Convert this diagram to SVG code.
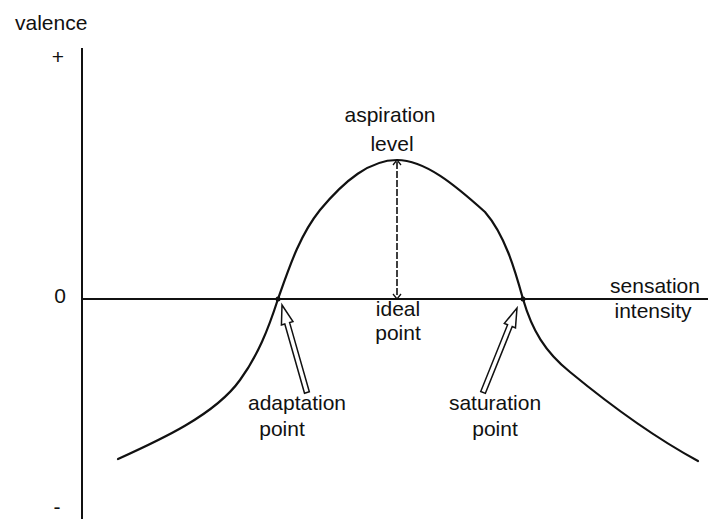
<svg xmlns="http://www.w3.org/2000/svg" width="708" height="519" viewBox="0 0 708 519">
<style>
text{font-family:"Liberation Sans",Arial,sans-serif;font-size:21px;fill:#111}
.mid{text-anchor:middle}
.axis{stroke:#111;stroke-width:2;fill:none}
.curve{stroke:#111;stroke-width:2.2;fill:none;stroke-linecap:round}
.hollow{fill:#fff;stroke:#111;stroke-width:1.5;stroke-linejoin:miter}
</style>
<defs>
<path id="harrow" d="M0,0 L6,19 L2.5,19 L2.5,91 L-2.5,91 L-2.5,19 L-6,19 Z"/>
</defs>
<g id="axes">
<line class="axis" x1="82" y1="48" x2="82" y2="519"/>
<line class="axis" x1="82" y1="299" x2="708" y2="299"/>
<text x="15" y="30">valence</text>
<text class="mid" x="58" y="64">+</text>
<text class="mid" x="60" y="303">0</text>
<text class="mid" x="57" y="514">-</text>
<text class="mid" x="655" y="293">sensation</text>
<text class="mid" x="653" y="318">intensity</text>
</g>
<g id="curve">
<path class="curve" d="M118,459 C160,440 215,415 240,380 C258,355 268,330 278,299 C290,265 300,235 320,210 C345,180 370,160 397,160 C425,160 455,185 485,212 C505,235 515,270 523,299 C532,330 545,352 570,372 C610,405 650,435 698,461"/>
<circle cx="278" cy="299" r="2.5" fill="#111"/>
<circle cx="523" cy="299" r="2.5" fill="#111"/>
</g>
<g id="connectors">
<line x1="397" y1="162" x2="397" y2="297" stroke="#111" stroke-width="1.6" stroke-dasharray="7,2"/>
<path d="M393,165 L397,160 L401,165" fill="none" stroke="#111" stroke-width="1.3"/>
<path d="M393,294 L397,299 L401,294" fill="none" stroke="#111" stroke-width="1.3"/>
<use href="#harrow" class="hollow" transform="translate(282,305) rotate(-15.9)"/>
<use href="#harrow" class="hollow" transform="translate(517,308) rotate(21.9)"/>
</g>
<g id="aspiration">
<text class="mid" x="390" y="122">aspiration</text>
<text class="mid" x="392" y="151">level</text>
</g>
<g id="ideal">
<text class="mid" x="398" y="316">ideal</text>
<text class="mid" x="398" y="340">point</text>
</g>
<g id="adaptation">
<text class="mid" x="297" y="410">adaptation</text>
<text class="mid" x="282" y="436">point</text>
</g>
<g id="saturation">
<text class="mid" x="495" y="410">saturation</text>
<text class="mid" x="495" y="436">point</text>
</g>
</svg>
